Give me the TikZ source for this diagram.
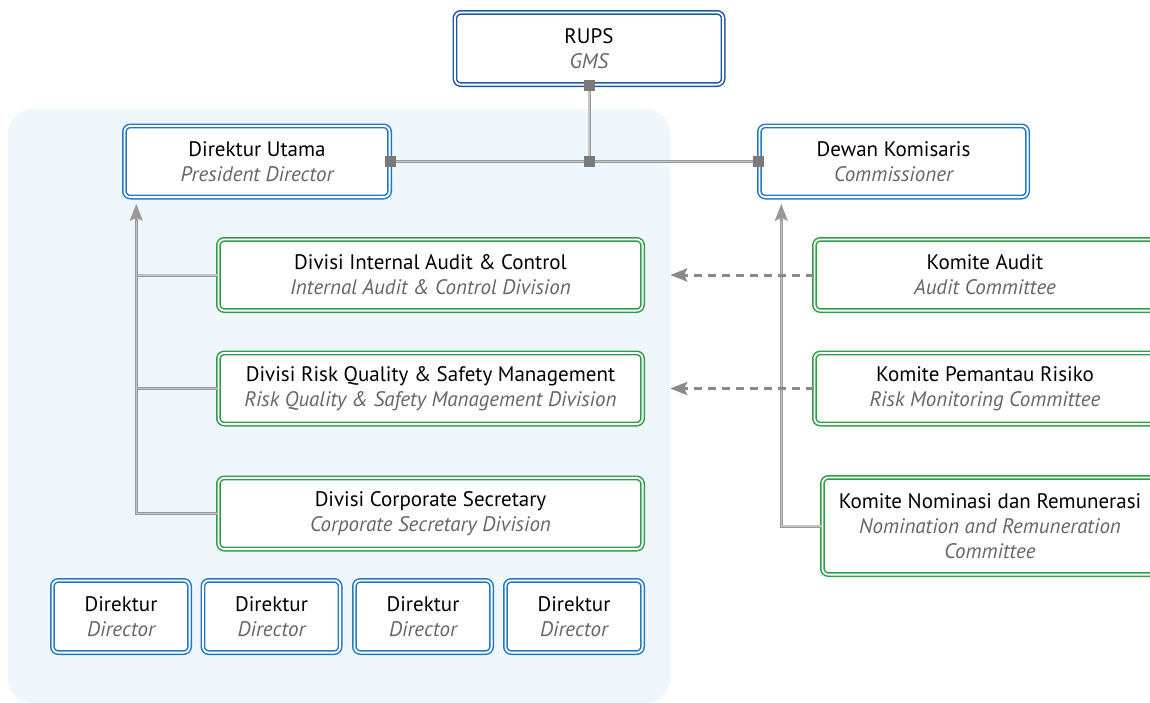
\documentclass[tikz,border=0pt]{standalone}
\usepackage{fontspec}
\setmainfont{PT Sans}
\usetikzlibrary{arrows.meta,calc}
\definecolor{panelc}{HTML}{EFF7FD}
\definecolor{navy}{HTML}{1E5AA3}
\definecolor{bluec}{HTML}{2379C2}
\definecolor{greenc}{HTML}{2F9D48}
\definecolor{lineg}{HTML}{999999}
\definecolor{linec}{HTML}{C4C4C4}
\definecolor{sqg}{HTML}{7A7A7A}
\definecolor{dashg}{HTML}{8A8A8A}
\definecolor{subg}{HTML}{666666}
\newcommand{\bxt}[2]{#1\\\textcolor{subg}{\itshape #2}}
\tikzset{
  x=1pt, y=-1pt,
  box/.style={rectangle, rounded corners=6, fill=white, line width=1.5,
    double=white, double distance=1.8, align=center, inner sep=0,
    font=\fontsize{21}{25}\selectfont, text=black},
  navybox/.style={box, draw=navy},
  bluebox/.style={box, draw=bluec},
  greenbox/.style={box, draw=greenc},
  dirbox/.style={bluebox, minimum width=137.2, minimum height=72.2},
  divbox/.style={greenbox, minimum width=424.2, minimum height=71.2},
  conn/.style={draw=lineg, line width=0.9, double=linec, double distance=1.2},
  tipline/.style={draw=lineg, line width=2, -{Stealth[length=17,width=13,inset=3]}, shorten >=6},
  dasharrow/.style={draw=dashg, line width=3, dash pattern=on 8 off 6, -{Stealth[length=17,width=13,inset=3]}},
  sq/.style={rectangle, fill=sqg, draw=none, minimum size=11, inner sep=0},
  panel/.style={rectangle, fill=panelc, draw=none, rounded corners=25, inner sep=0}
}
\begin{document}
\begin{tikzpicture}
\useasboundingbox (0,0) rectangle (1150,702);
\clip (0,0) rectangle (1150,702);
\fill[white] (0,0) rectangle (1150,702);
\node[panel, minimum width=662, minimum height=594] (panel) at (339,406) {};

% boxes
\node[navybox, minimum width=268.2, minimum height=72.2] (rups) at (589,48.5) {\bxt{RUPS}{GMS}};
\node[bluebox, minimum width=265.2, minimum height=71.2] (du) at (257,161.5) {\bxt{Direktur Utama}{President Director}};
\node[bluebox, minimum width=268.2, minimum height=71.2] (dk) at (893.5,161.5) {\bxt{Dewan Komisaris}{Commissioner}};

\node[divbox] (ia) at (430.5,275) {\bxt{Divisi Internal Audit \& Control}{Internal Audit \& Control Division}};
\node[divbox] (rq) at (430.5,388.5) {\bxt{Divisi Risk Quality \& Safety Management}{Risk Quality \& Safety Management Division}};
\node[divbox] (cs) at (430.5,513.5) {\bxt{Divisi Corporate Secretary}{Corporate Secretary Division}};

\node[dirbox] (d1) at (121,616.5) {\bxt{Direktur}{Director}};
\node[dirbox] (d2) at (271.5,616.5) {\bxt{Direktur}{Director}};
\node[dirbox] (d3) at (423,616.5) {\bxt{Direktur}{Director}};
\node[dirbox] (d4) at (574,616.5) {\bxt{Direktur}{Director}};

\node[greenbox, minimum width=341.2, minimum height=71.2] (ka) at (985,275) {\bxt{Komite Audit}{Audit Committee}};
\node[greenbox, minimum width=341.2, minimum height=71.2] (kp) at (985,388.5) {\bxt{Komite Pemantau Risiko}{Risk Monitoring Committee}};
\node[greenbox, minimum width=335.2, minimum height=97.2] (kn) at (990,526) {Komite Nominasi dan Remunerasi\\\textcolor{subg}{\itshape Nomination and Remuneration}\\\textcolor{subg}{\itshape Committee}};

% top connectors
\coordinate (j) at (rups.south |- du.east);
\draw[conn] (rups.south) -- (j);
\draw[conn] (du.east) -- (dk.west);
\node[sq] (s1) at (rups.south) {};
\node[sq] (s2) at (j) {};
\node[sq] (s3) at (du.east) {};
\node[sq] (s4) at (dk.west) {};

% left connectors
\coordinate (la) at ([xshift=12.6]du.south west);
\draw[conn] (ia.west) -- (ia.west -| la);
\draw[conn] (rq.west) -- (rq.west -| la);
\draw[conn] (cs.west) -| ($(la)+(0,21)$);
\draw[tipline] ($(la)+(0,23)$) -- (la);

% right connector
\coordinate (ra) at ([xshift=22.6]dk.south west);
\draw[conn] (kn.west) -| ($(ra)+(0,21)$);
\draw[tipline] ($(ra)+(0,23)$) -- (ra);

% dashed arrows
\draw[dasharrow] (ka.west) -- (ka.west -| panel.east);
\draw[dasharrow] (kp.west) -- (kp.west -| panel.east);
\end{tikzpicture}
\end{document}
